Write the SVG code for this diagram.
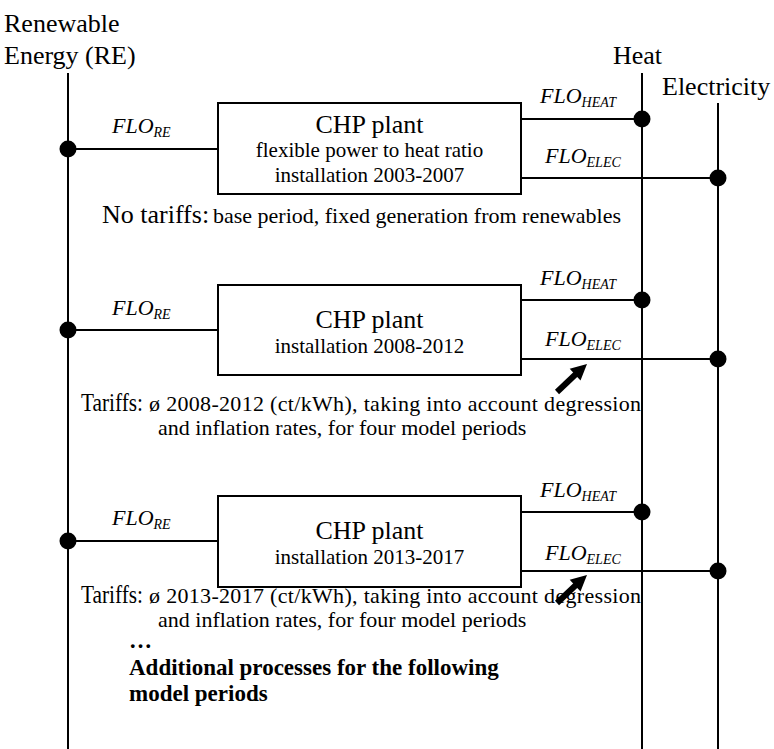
<svg xmlns="http://www.w3.org/2000/svg" xmlns:xlink="http://www.w3.org/1999/xlink" width="774" height="749" viewBox="0 0 774 749">
  <style>
    text { font-family: "Liberation Serif", "Times New Roman", "DejaVu Serif", serif; fill: #000; }
    .bus { stroke: #000; stroke-width: 2; fill: none; }
    .flow { stroke: #000; stroke-width: 2; fill: none; }
    .box { stroke: #000; stroke-width: 2; fill: #fff; }
    .dot { fill: #000; }
    .head { font-size: 26px; }
    .title { font-size: 26px; text-anchor: middle; }
    .sub { font-size: 21px; text-anchor: middle; }
    .flo { font-size: 22px; font-style: italic; }
    .idx { font-size: 14px; }
    .lead { font-size: 26px; }
    .tariff { font-size: 26px; }
    .note { font-size: 22px; }
    .bold { font-size: 23px; font-weight: bold; }
  </style>
  <defs>
    <!-- thick arrow, tip at origin, pointing up-right -->
    <g id="thick-arrow">
      <line x1="-30" y1="28" x2="-10" y2="9" stroke="#000" stroke-width="6"/>
      <polygon points="0,0 -6.5,16.6 -17.3,4.8" fill="#000"/>
    </g>
  </defs>

  <!-- commodity buses -->
  <g id="bus-re">
    <line class="bus" x1="68" y1="73" x2="68" y2="749"/>
    <text class="head" x="4" y="32">Renewable</text>
    <text class="head" x="4" y="64">Energy (RE)</text>
  </g>
  <g id="bus-heat">
    <line class="bus" x1="642" y1="73" x2="642" y2="749"/>
    <text class="head" x="613" y="64">Heat</text>
  </g>
  <g id="bus-elec">
    <line class="bus" x1="718" y1="103" x2="718" y2="749"/>
    <text class="head" x="662" y="95">Electricity</text>
  </g>

  <!-- flows between buses and plants -->
  <g id="connectors">
    <line class="flow" x1="68" y1="149" x2="218" y2="149"/>
    <line class="flow" x1="521" y1="119" x2="642" y2="119"/>
    <line class="flow" x1="521" y1="178" x2="718" y2="178"/>

    <line class="flow" x1="68" y1="330" x2="218" y2="330"/>
    <line class="flow" x1="521" y1="300" x2="642" y2="300"/>
    <line class="flow" x1="521" y1="359" x2="718" y2="359"/>

    <line class="flow" x1="68" y1="541" x2="218" y2="541"/>
    <line class="flow" x1="521" y1="512" x2="642" y2="512"/>
    <line class="flow" x1="521" y1="571" x2="718" y2="571"/>

    <circle class="dot" cx="68" cy="149" r="8.5"/>
    <circle class="dot" cx="642" cy="119" r="8.5"/>
    <circle class="dot" cx="718" cy="178" r="8.5"/>
    <circle class="dot" cx="68" cy="330" r="8.5"/>
    <circle class="dot" cx="642" cy="300" r="8.5"/>
    <circle class="dot" cx="718" cy="359" r="8.5"/>
    <circle class="dot" cx="68" cy="541" r="8.5"/>
    <circle class="dot" cx="642" cy="512" r="8.5"/>
    <circle class="dot" cx="718" cy="571" r="8.5"/>

    <use xlink:href="#thick-arrow" href="#thick-arrow" x="587" y="364"/>
    <use xlink:href="#thick-arrow" href="#thick-arrow" x="587" y="575"/>
  </g>

  <!-- flow labels -->
  <g id="flow-labels">
    <text class="flo" x="112" y="133">FLO<tspan class="idx" dy="4">RE</tspan></text>
    <text class="flo" x="540" y="103">FLO<tspan class="idx" dy="4">HEAT</tspan></text>
    <text class="flo" x="545" y="163">FLO<tspan class="idx" dy="4">ELEC</tspan></text>

    <text class="flo" x="112" y="315">FLO<tspan class="idx" dy="4">RE</tspan></text>
    <text class="flo" x="540" y="285">FLO<tspan class="idx" dy="4">HEAT</tspan></text>
    <text class="flo" x="545" y="346">FLO<tspan class="idx" dy="4">ELEC</tspan></text>

    <text class="flo" x="112" y="525">FLO<tspan class="idx" dy="4">RE</tspan></text>
    <text class="flo" x="540" y="497">FLO<tspan class="idx" dy="4">HEAT</tspan></text>
    <text class="flo" x="545" y="560">FLO<tspan class="idx" dy="4">ELEC</tspan></text>
  </g>

  <!-- CHP plant, 2003-2007 -->
  <g id="chp-2003">
    <rect class="box" x="218" y="103" width="303" height="91"/>
    <text class="title" x="369.5" y="133">CHP plant</text>
    <text class="sub" x="369.5" y="157">flexible power to heat ratio</text>
    <text class="sub" x="369.5" y="182">installation 2003-2007</text>
  </g>
  <g id="tariff-2003">
    <text class="lead" x="102" y="223">No tariffs:</text>
    <text class="note" x="213" y="223">base period, fixed generation from renewables</text>
  </g>

  <!-- CHP plant, 2008-2012 -->
  <g id="chp-2008">
    <rect class="box" x="218" y="285" width="303" height="90"/>
    <text class="title" x="369.5" y="328">CHP plant</text>
    <text class="sub" x="369.5" y="353">installation 2008-2012</text>
  </g>
  <g id="tariff-2008">
    <text class="tariff" x="81" y="411" textLength="62" lengthAdjust="spacingAndGlyphs">Tariffs:</text>
    <text class="note" x="149" y="411" textLength="492">ø 2008-2012 (ct/kWh), taking into account degression</text>
    <text class="note" x="158" y="435">and inflation rates, for four model periods</text>
  </g>

  <!-- CHP plant, 2013-2017 -->
  <g id="chp-2013">
    <rect class="box" x="218" y="496" width="303" height="91"/>
    <text class="title" x="369.5" y="539">CHP plant</text>
    <text class="sub" x="369.5" y="564">installation 2013-2017</text>
  </g>
  <g id="tariff-2013">
    <text class="tariff" x="81" y="603" textLength="62" lengthAdjust="spacingAndGlyphs">Tariffs:</text>
    <text class="note" x="149" y="603" textLength="492">ø 2013-2017 (ct/kWh), taking into account degression</text>
    <text class="note" x="158" y="627">and inflation rates, for four model periods</text>
  </g>

  <!-- further periods -->
  <g id="more-periods">
    <text class="bold" x="129" y="648">…</text>
    <text class="bold" x="129" y="675">Additional processes for the following</text>
    <text class="bold" x="129" y="701">model periods</text>
  </g>
</svg>
